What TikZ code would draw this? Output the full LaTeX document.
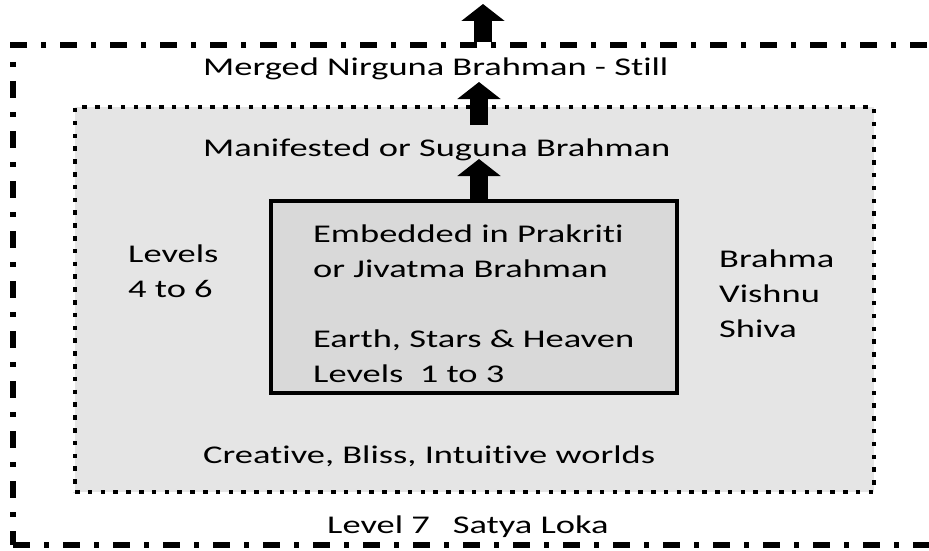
\documentclass[tikz,border=0pt]{standalone}
\usepackage{fontspec}
\setmainfont[FakeStretch=1.43, Ligatures={NoCommon}]{Carlito}
\usetikzlibrary{arrows.meta}
\definecolor{midgray}{gray}{0.90}
\definecolor{boxgray}{gray}{0.85}
\tikzset{
  outerbox/.style={draw=black, line width=5.5pt, dash pattern=on 17pt off 14pt on 5pt off 14pt, inner sep=0pt},
  midbox/.style={draw=black, fill=midgray, line width=4.5pt, dash pattern=on 4.5pt off 8.3pt, inner sep=0pt},
  innerbox/.style={draw=black, fill=boxgray, line width=4pt, inner sep=0pt},
  lbl/.style={inner sep=0pt, anchor=base west, align=left, font=\fontsize{25.5}{35}\selectfont},
  bigarrow/.style={line width=18.5pt, -{Triangle[width=42.5pt,length=17pt]}}
}
\begin{document}
\begin{tikzpicture}[x=1pt, y=-1pt]
\useasboundingbox (0,0) rectangle (929,551);
\node[outerbox, minimum width=932pt, minimum height=500pt] (outer) at (479,295) {};
\node[midbox, minimum width=799pt, minimum height=385pt] (mid) at (474.5,299.5) {};
\node[innerbox, minimum width=406pt, minimum height=192pt] (inner) at (474,297) {};

% multi-line labels are anchored at the baseline of their last line
\node[lbl] (merged) at (203,76) {Merged Nirguna Brahman - Still};
\node[lbl] (manif) at (203,156) {Manifested or Suguna Brahman};
\node[lbl] (levels) at (128,297) {Levels\\4 to 6};
\node[lbl] (gods) at (719,337) {Brahma\\Vishnu\\Shiva};
\node[lbl] (embed) at (313,382) {Embedded in Prakriti\\or Jivatma Brahman\\[35pt]Earth, Stars \& Heaven\\Levels\ \ 1 to 3};
\node[lbl] (creative) at (203,463) {Creative, Bliss, Intuitive worlds};
\node[lbl] (satya) at (327,533) {Level 7\hspace{0.9em}Satya Loka};

\coordinate (t1) at (483,4);
\coordinate (s2) at (479,125);
\coordinate (t2) at (479,82);
\coordinate (t3) at (479,159);
\draw[bigarrow] (outer.north -| t1) -- (t1);
\draw[bigarrow] (s2) -- (t2);
\draw[bigarrow] (inner.north -| t3) -- (t3);
\end{tikzpicture}
\end{document}
